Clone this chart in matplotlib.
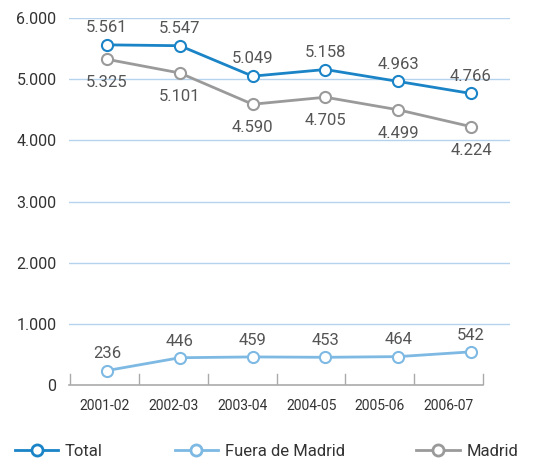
import matplotlib
matplotlib.use("Agg")
import matplotlib.pyplot as plt
import numpy as np

plt.rcParams['font.family'] = ['Roboto', 'DejaVu Sans']

periods = ['2001-02', '2002-03', '2003-04', '2004-05', '2005-06', '2006-07']
total = [5561, 5547, 5049, 5158, 4963, 4766]
fuera = [236, 446, 459, 453, 464, 542]
madrid = [5325, 5101, 4590, 4705, 4499, 4224]

blue = '#1a84c7'
light_blue = '#7db9e3'
gray = '#9a9a9a'
text_col = '#333333'
grid_col = '#b5d3ec'

def fmt(v):
    return '{:,}'.format(v).replace(',', '.')

fig = plt.figure(figsize=(5.49, 4.62), dpi=100)
ax = fig.add_axes([69 / 549, 77 / 462, (510 - 69) / 549, (385 - 18) / 462])

x = np.arange(len(periods))
step = 72.8
x_left = (69 - 107) / step
x_right = (510 - 107) / step
x_axis_end = (483 - 107) / step
ax.set_xlim(x_left, x_right)
ax.set_ylim(0, 6000)

for y in range(1000, 7000, 1000):
    ax.axhline(y, color=grid_col, lw=1, zorder=1)

# bottom axis line with category ticks
bounds = np.linspace(x_left + 0.02, x_axis_end, len(periods) + 1)
ax.plot([x_left, x_axis_end], [0, 0], color='#aaaaaa', lw=1.2, clip_on=False, zorder=2)
for b in bounds:
    ax.plot([b, b], [0, 180], color='#aaaaaa', lw=1, zorder=2)

for vals, col, dy in [(total, blue, 12.5), (madrid, gray, -17), (fuera, light_blue, 12)]:
    ax.plot(x, vals, color=col, lw=2, marker='o', ms=8, mfc='white', mec=col, mew=1.5, zorder=3)
    for xi, v in zip(x, vals):
        ax.annotate(fmt(v), (xi, v), xytext=(0, dy), textcoords='offset points',
                    ha='center', va='center', fontsize=12, color='#555555', zorder=4)

for s in ax.spines.values():
    s.set_visible(False)

ax.set_yticks(range(0, 7000, 1000))
ax.set_yticklabels([fmt(v) for v in range(0, 7000, 1000)], fontsize=11.5, color=text_col)
ax.tick_params(axis='y', length=0, pad=9)

mids = (bounds[:-1] + bounds[1:]) / 2
ax.set_xticks(mids)
ax.set_xticklabels(periods, fontsize=10, color=text_col)
ax.tick_params(axis='x', length=0, pad=10)

handles = [plt.Line2D([], [], color=c, lw=2, marker='o', ms=8, mfc='white', mec=c, mew=2)
           for c in (blue, light_blue, gray)]
fig.legend(handles, ['Total', 'Fuera de Madrid', 'Madrid'], loc='lower left',
           bbox_to_anchor=(0.0, -0.025), ncol=3, frameon=False, fontsize=12,
           handlelength=2.6, handletextpad=0.4, columnspacing=4.3, labelcolor=text_col)

fig.savefig('out.png', dpi=100)
